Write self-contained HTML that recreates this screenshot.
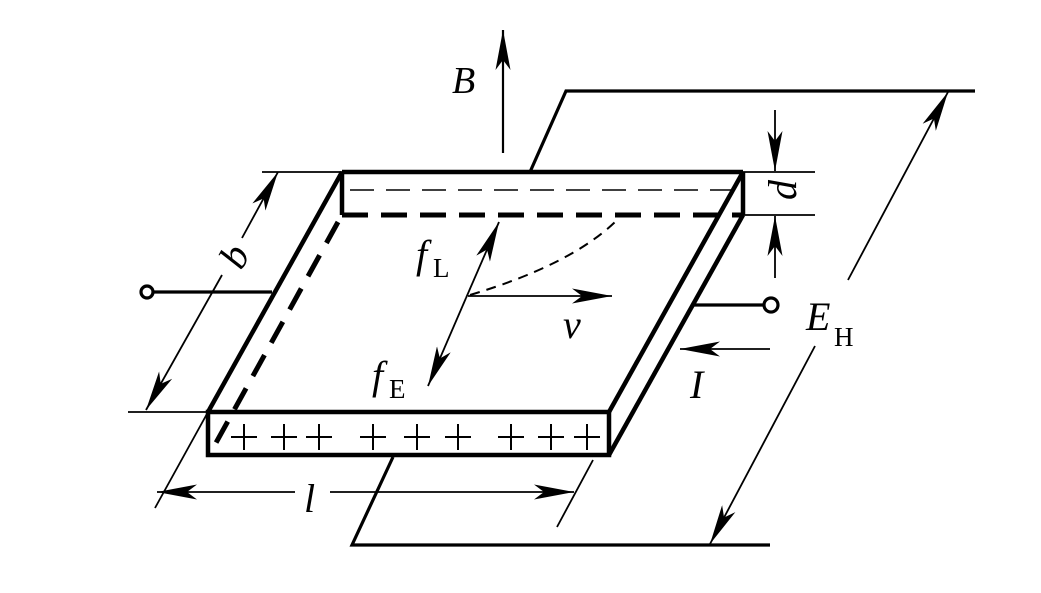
<!DOCTYPE html>
<html><head><meta charset="utf-8"><style>html,body{margin:0;padding:0;background:#fff}svg{display:block}
text{font-family:"Liberation Serif","DejaVu Serif",serif;fill:#000}</style></head><body>
<svg width="1041" height="593" viewBox="0 0 1041 593" xmlns="http://www.w3.org/2000/svg" font-family="Liberation Serif, DejaVu Serif, serif">
<defs>
<marker id="ah" viewBox="0 0 40 15" refX="40" refY="7.5" markerWidth="40" markerHeight="15" markerUnits="userSpaceOnUse" orient="auto-start-reverse">
<path d="M0,0 L40,7.5 L0,15 L10,7.5 Z" fill="#000"/></marker>
</defs>
<g stroke="#000" fill="none" stroke-linecap="butt">
<g stroke-width="4.5">
<line x1="342" y1="172" x2="743" y2="172"/>
<line x1="342" y1="172" x2="342" y2="215"/>
<line x1="743" y1="172" x2="743" y2="215"/>
<line x1="342" y1="172" x2="208" y2="412"/>
<line x1="743" y1="172" x2="609" y2="412"/>
<line x1="743" y1="215" x2="609" y2="455"/>
<rect x="208" y="412" width="401" height="43"/>
<line x1="342" y1="215" x2="743" y2="215" stroke-dasharray="26,13" stroke-width="5"/>
<line x1="338" y1="222" x2="212" y2="450" stroke-dasharray="24,14" stroke-width="5"/>
</g>
<line x1="350" y1="190" x2="735" y2="190" stroke-width="1.5" stroke-dasharray="24,12"/>
<g stroke-width="2">
<path d="M231,437h26M244,424v26M271,437h26M284,424v26M306,437h26M319,424v26M360,437h26M373,424v26M404,437h26M417,424v26M445,437h26M458,424v26M498,437h26M511,424v26M538,437h26M551,424v26M574,437h26M587,424v26"/>
</g>
<g stroke-width="1.8">
<line x1="262" y1="172" x2="342" y2="172"/>
<line x1="128" y1="412" x2="208" y2="412"/>
<line x1="743" y1="172" x2="815" y2="172"/>
<line x1="743" y1="215" x2="815" y2="215"/>
<line x1="155" y1="508" x2="208" y2="412"/>
<line x1="557" y1="527" x2="593" y2="460"/>
<line x1="242" y1="238" x2="278" y2="172" marker-end="url(#ah)"/>
<line x1="222" y1="275" x2="146" y2="410" marker-end="url(#ah)"/>
<line x1="775" y1="110" x2="775" y2="171" marker-end="url(#ah)"/>
<line x1="775" y1="278" x2="775" y2="216" marker-end="url(#ah)"/>
<line x1="295" y1="492" x2="157" y2="492" marker-end="url(#ah)"/>
<line x1="330" y1="492" x2="574" y2="492" marker-end="url(#ah)"/>
<line x1="848" y1="280" x2="948" y2="92" marker-end="url(#ah)"/>
<line x1="815" y1="346" x2="710" y2="544" marker-end="url(#ah)"/>
<line x1="503" y1="153" x2="503" y2="30" stroke-width="2.2" marker-end="url(#ah)"/>
<line x1="466" y1="298" x2="499" y2="222" marker-end="url(#ah)"/>
<line x1="466" y1="298" x2="428" y2="386" marker-end="url(#ah)"/>
<line x1="468" y1="296" x2="612" y2="296" marker-end="url(#ah)"/>
<path d="M470,295 Q570,265 615,222" stroke-dasharray="10,7" stroke-width="2"/>
<line x1="770" y1="349" x2="680" y2="349" marker-end="url(#ah)"/>
</g>
</g>
<g stroke="#000" fill="none" stroke-width="3.2">
<line x1="153" y1="292" x2="272" y2="292"/>
<circle cx="147" cy="292" r="6" fill="#fff"/>
<line x1="692" y1="305" x2="764" y2="305"/>
<circle cx="771" cy="305" r="7" fill="#fff"/>
<polyline points="530,172 566,91 975,91"/>
<polyline points="393,457 352,545 770,545"/>
</g>
<text x="452" y="93" font-size="38" font-style="italic">B</text>
<text x="0" y="0" font-size="40" font-style="italic" transform="translate(238,258) rotate(-62)" text-anchor="middle" dominant-baseline="middle">b</text>
<text x="0" y="0" font-size="40" font-style="italic" transform="translate(787,190) rotate(-90)" text-anchor="middle" dominant-baseline="middle">d</text>
<text x="416" y="268" font-size="40" font-style="italic">f</text>
<text x="433" y="277" font-size="27">L</text>
<text x="372" y="389" font-size="40" font-style="italic">f</text>
<text x="389" y="398" font-size="27">E</text>
<text x="563" y="338" font-size="40" font-style="italic">v</text>
<text x="806" y="330" font-size="40" font-style="italic">E</text>
<text x="834" y="346" font-size="27">H</text>
<text x="690" y="398" font-size="40" font-style="italic">I</text>
<text x="304" y="512" font-size="40" font-style="italic">l</text>
</svg>
</body></html>
